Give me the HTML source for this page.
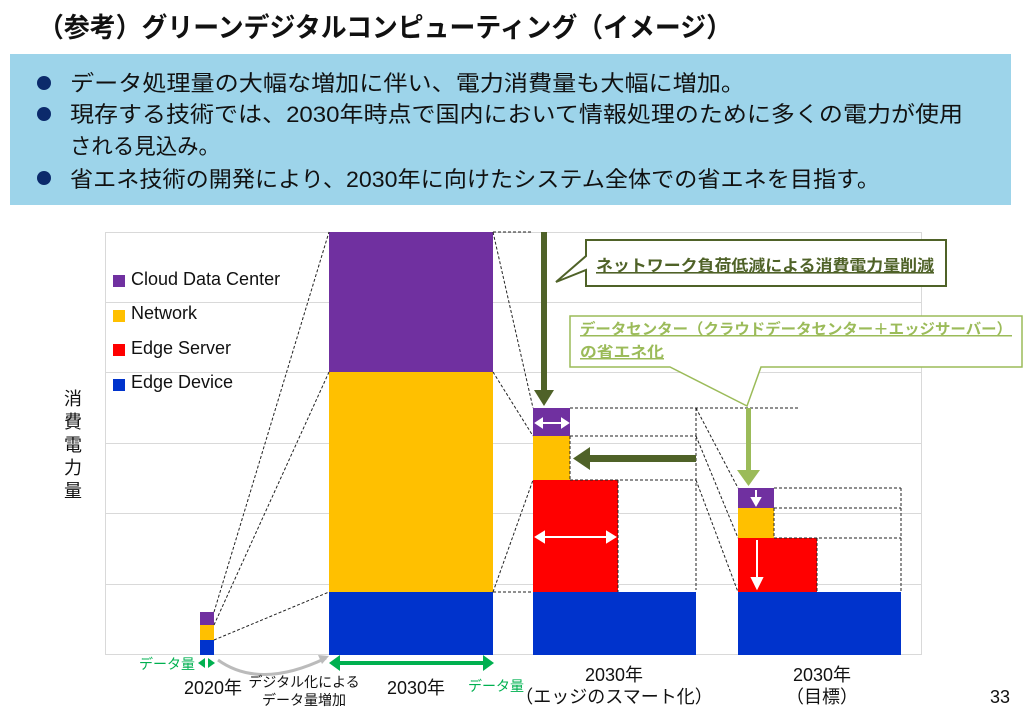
<!DOCTYPE html>
<html><head><meta charset="utf-8"><style>
html,body{margin:0;padding:0;background:#fff;}
svg{display:block;font-family:"Liberation Sans","Noto Sans CJK JP",sans-serif;}
</style></head><body>
<svg width="1024" height="710" viewBox="0 0 1024 710" xmlns="http://www.w3.org/2000/svg">
<defs>
<marker id="ag" markerWidth="4" markerHeight="4" refX="2" refY="2" orient="auto" markerUnits="strokeWidth"><path d="M0,0 L4,2 L0,4z" fill="#00b050"/></marker>
</defs>
<!-- title -->
<text x="38" y="37" font-size="27" font-weight="bold" fill="#111" textLength="694" lengthAdjust="spacingAndGlyphs">（参考）グリーンデジタルコンピューティング（イメージ）</text>
<rect x="10" y="54" width="1001" height="151" fill="#9dd4ea"/>
<g fill="#0b2a6b"><circle cx="44" cy="83" r="7"/><circle cx="44" cy="114" r="7"/><circle cx="44" cy="178" r="7"/></g>
<g font-size="22" fill="#111">
<text x="70" y="91" textLength="675" lengthAdjust="spacingAndGlyphs">データ処理量の大幅な増加に伴い、電力消費量も大幅に増加。</text>
<text x="70" y="122" textLength="893" lengthAdjust="spacingAndGlyphs">現存する技術では、2030年時点で国内において情報処理のために多くの電力が使用</text>
<text x="70" y="154" textLength="150" lengthAdjust="spacingAndGlyphs">される見込み。</text>
<text x="70" y="187" textLength="810" lengthAdjust="spacingAndGlyphs">省エネ技術の開発により、2030年に向けたシステム全体での省エネを目指す。</text>
</g>
<!-- plot frame & grid -->
<g stroke="#d9d9d9" stroke-width="1" fill="none">
<rect x="105.5" y="232.5" width="816" height="422"/>
<line x1="105" y1="302.5" x2="921" y2="302.5"/>
<line x1="105" y1="372.5" x2="921" y2="372.5"/>
<line x1="105" y1="443.5" x2="921" y2="443.5"/>
<line x1="105" y1="513.5" x2="921" y2="513.5"/>
<line x1="105" y1="584.5" x2="921" y2="584.5"/>
</g>
<!-- legend -->
<g font-size="18" fill="#111">
<rect x="113" y="275" width="12" height="12" fill="#7030a0"/><text x="131" y="285">Cloud Data Center</text>
<rect x="113" y="310" width="12" height="12" fill="#ffc000"/><text x="131" y="319">Network</text>
<rect x="113" y="344" width="12" height="12" fill="#ff0000"/><text x="131" y="354">Edge Server</text>
<rect x="113" y="379" width="12" height="12" fill="#0033cc"/><text x="131" y="388">Edge Device</text>
</g>
<g font-size="18" fill="#111" text-anchor="middle">
<text x="73" y="405">消</text><text x="73" y="428">費</text><text x="73" y="451">電</text><text x="73" y="474">力</text><text x="73" y="497">量</text>
</g>
<!-- bar 2020 -->
<rect x="200" y="612" width="14" height="13" fill="#7030a0"/>
<rect x="200" y="625" width="14" height="15" fill="#ffc000"/>
<rect x="200" y="640" width="14" height="15" fill="#0033cc"/>
<!-- bar 2030 -->
<rect x="329" y="232" width="164" height="140" fill="#7030a0"/>
<rect x="329" y="372" width="164" height="220" fill="#ffc000"/>
<rect x="329" y="592" width="164" height="63" fill="#0033cc"/>
<!-- bar 3 -->
<rect x="533" y="408" width="37" height="28" fill="#7030a0"/>
<rect x="533" y="436" width="37" height="44" fill="#ffc000"/>
<rect x="533" y="480" width="85" height="112" fill="#ff0000"/>
<rect x="533" y="592" width="163" height="63" fill="#0033cc"/>
<!-- bar 4 -->
<rect x="738" y="488" width="36" height="20" fill="#7030a0"/>
<rect x="738" y="508" width="36" height="30" fill="#ffc000"/>
<rect x="738" y="538" width="79" height="54" fill="#ff0000"/>
<rect x="738" y="592" width="163" height="63" fill="#0033cc"/>
<!-- dashed lines -->
<g stroke="#222" stroke-width="1" stroke-dasharray="3,2" fill="none">
<line x1="214" y1="612" x2="329" y2="232"/>
<line x1="214" y1="625" x2="329" y2="372"/>
<line x1="214" y1="640" x2="329" y2="592"/>
<line x1="493" y1="232" x2="533" y2="232"/>
<line x1="493" y1="232" x2="533" y2="408"/>
<line x1="493" y1="372" x2="533" y2="436"/>
<line x1="493" y1="592" x2="533" y2="480"/>
<line x1="493" y1="592" x2="533" y2="592"/>
<line x1="570" y1="408" x2="800" y2="408"/>
<line x1="570" y1="436" x2="696" y2="436"/>
<line x1="570" y1="480" x2="696" y2="480"/>
<line x1="570" y1="436" x2="570" y2="480"/>
<line x1="618" y1="480" x2="618" y2="592"/>
<line x1="696" y1="408" x2="696" y2="590"/>
<line x1="696" y1="408" x2="738" y2="488"/>
<line x1="696" y1="436" x2="738" y2="538"/>
<line x1="696" y1="480" x2="738" y2="592"/>
<line x1="774" y1="488" x2="901" y2="488"/>
<line x1="774" y1="508" x2="901" y2="508"/>
<line x1="774" y1="538" x2="901" y2="538"/>
<line x1="817" y1="538" x2="817" y2="592"/>
<line x1="901" y1="488" x2="901" y2="592"/>
<line x1="774" y1="508" x2="774" y2="538"/>
</g>
<!-- dark green arrows -->
<g fill="#4f6228" stroke="none">
<rect x="541" y="232" width="6" height="160"/>
<polygon points="534,390 554,390 544,406"/>
<rect x="588" y="455" width="108" height="7"/>
<polygon points="573,458.5 590,447 590,470"/>
</g>
<!-- light green arrow -->
<g fill="#9bbb59">
<rect x="746" y="408" width="5" height="64"/>
<polygon points="737,470 760,470 748.5,486"/>
</g>
<!-- white arrows -->
<g stroke="#fff" stroke-width="2" fill="#fff">
<line x1="540" y1="423" x2="564" y2="423"/>
<polygon points="536,423 542,419 542,427" /><polygon points="568,423 562,419 562,427"/>
<line x1="541" y1="537" x2="610" y2="537"/>
<polygon points="536,537 544,532 544,542"/><polygon points="615,537 607,532 607,542"/>
<line x1="756" y1="490" x2="756" y2="500"/>
<polygon points="756,505 752,498 760,498"/>
<line x1="757" y1="540" x2="757" y2="580"/>
<polygon points="757,588 752,578 762,578"/>
</g>
<!-- callout 1 -->
<path d="M586,240 L946,240 L946,286 L586,286 L586,270 L556,282 L586,256 Z" fill="#fff" stroke="#4f6228" stroke-width="2"/>
<text x="596" y="271" font-size="16" font-weight="bold" fill="#4f6228" text-decoration="underline" textLength="338" lengthAdjust="spacingAndGlyphs">ネットワーク負荷低減による消費電力量削減</text>
<!-- callout 2 -->
<path d="M570,316 L1022,316 L1022,367 L761,367 L747,406 L670,367 L570,367 Z" fill="#fff" stroke="#9bbb59" stroke-width="1.5"/>
<text x="580" y="334" font-size="15" font-weight="bold" fill="#9bbb59" text-decoration="underline" textLength="432" lengthAdjust="spacingAndGlyphs">データセンター（クラウドデータセンター＋エッジサーバー）</text>
<text x="580" y="357" font-size="15" font-weight="bold" fill="#9bbb59" text-decoration="underline" textLength="84" lengthAdjust="spacingAndGlyphs">の省エネ化</text>
<!-- green data arrows -->
<g stroke="#00b050" stroke-width="4" fill="#00b050">
<line x1="336" y1="663" x2="486" y2="663"/>
</g>
<polygon points="329,663 340,655 340,671" fill="#00b050"/>
<polygon points="494,663 483,655 483,671" fill="#00b050"/>
<polygon points="198,663 205,658 205,668" fill="#00b050"/>
<polygon points="215,663 208,658 208,668" fill="#00b050"/>
<path d="M218,660 Q260,690 326,658" fill="none" stroke="#bbb" stroke-width="3"/>
<polygon points="329,656 318,655 322,664" fill="#bbb"/>
<!-- x labels -->
<g fill="#00b050" font-size="14">
<text x="139" y="669">データ量</text>
<text x="468" y="691">データ量</text>
</g>
<g fill="#111" font-size="18" text-anchor="middle">
<text x="213" y="694">2020年</text>
<text x="416" y="694">2030年</text>
<text x="614" y="681">2030年</text>
<text x="614" y="703">（エッジのスマート化）</text>
<text x="822" y="681">2030年</text>
<text x="822" y="703">（目標）</text>
</g>
<g fill="#111" font-size="14" text-anchor="middle">
<text x="304" y="687">デジタル化による</text>
<text x="304" y="705">データ量増加</text>
</g>
<text x="1010" y="703" font-size="18" fill="#111" text-anchor="end">33</text>
</svg>
</body></html>
